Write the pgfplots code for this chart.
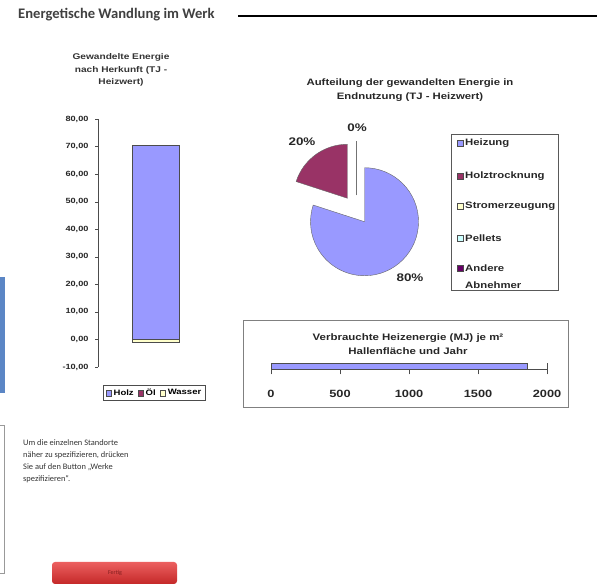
\documentclass[border=0pt]{standalone}
\usepackage{fontspec}
\setmainfont{Liberation Sans}[FakeStretch=1.22]
\newfontfamily\calibri{Carlito}
\usepackage{pgfplots}
\pgfplotsset{compat=1.18}
\usetikzlibrary{calc}

\definecolor{heiz}{HTML}{9999FF}
\definecolor{holz}{HTML}{993366}
\definecolor{strom}{HTML}{FFFFCC}
\definecolor{pell}{HTML}{CCFFFF}
\definecolor{andere}{HTML}{660066}
\definecolor{randblau}{HTML}{5B86C5}
\definecolor{knopfhell}{HTML}{EC6060}
\definecolor{knopfdunkel}{HTML}{C42828}
\definecolor{knopftext}{HTML}{821E1E}

% Gewandelte Energie nach Herkunft (TJ)
\def\valHolz{70.6}
\def\valWasser{-1.0}
% Endnutzung in Prozent
\def\pHeiz{80}
\def\pHolz{20}
% Heizenergie MJ je m2
\def\valMJ{1860}

\pgfplotsset{sqleg/.style={legend image code/.code={%
  \draw[##1,draw=black!70] (0pt,-2.8pt) rectangle (5.6pt,2.8pt);}}}

\newcommand\fs[1]{\bfseries\fontsize{#1}{#1}\selectfont}
\newcommand\fsb[2]{\bfseries\fontsize{#1}{#2}\selectfont}

\begin{document}
\begin{tikzpicture}[x=1pt,y=1pt]
\useasboundingbox (0,0) rectangle (597,588);

% Kopf
\node[anchor=west, inner sep=0pt, font=\calibri\bfseries\fontsize{14.6}{14.6}\selectfont, text=black!75]
  at (18,573) {Energetische Wandlung im Werk};
\draw[line width=1.8pt] (238,572) -- (597,572);

% Reste links am Rand
\fill[randblau] (0,195) rectangle (5,311);
\draw[black!40] (0,163) -- (4,163) -- (4,15) -- (0,15);

% --- Balken: Herkunft ---
\node[align=center, font=\fsb{8.3}{12.5}, text=black!80] at (121,518)
  {Gewandelte Energie\\ nach Herkunft (TJ -\\ Heizwert)};
\begin{axis}[
  at={(98pt,221pt)}, anchor=south west, scale only axis,
  width=112pt, height=248pt,
  xmin=98, xmax=210, ymin=-10, ymax=80,
  axis y line=left, axis x line=none,
  axis line style={-, black!70},
  ytick={-10,0,...,80},
  tick align=outside, major tick length=3pt,
  tick style={black!70},
  yticklabel style={font=\fs{7.5}, text=black!85, xshift=-3pt,
    /pgf/number format/.cd, fixed, fixed zerofill, precision=2, use comma,
    assume math mode=true},
  ybar, bar width=47pt, bar shift=0pt,
  clip=false,
  legend style={at={(axis description cs:0.504,-0.105)}, anchor=center,
    legend columns=-1, draw=black!70, font=\fs{7.8}, inner xsep=2pt, inner ysep=1.5pt,
    /tikz/every even column/.append style={column sep=2pt}},
]
\addplot[fill=heiz, draw=black!70, forget plot] coordinates {(155.5,\valHolz)};
\addplot[fill=strom, draw=black!70, forget plot] coordinates {(155.5,\valWasser)};
\addlegendimage{sqleg, fill=heiz}\addlegendentry{Holz}
\addlegendimage{sqleg, fill=holz}\addlegendentry{Öl}
\addlegendimage{sqleg, fill=strom}\addlegendentry{Wasser}
\end{axis}

% --- Kreis: Endnutzung ---
\node[align=center, font=\fsb{9.3}{14}, text=black!85] at (410,498)
  {Aufteilung der gewandelten Energie in\\ Endnutzung (TJ - Heizwert)};
\begin{axis}[
  at={(356pt,378pt)}, anchor=center, scale only axis,
  width=108pt, height=108pt,
  xmin=-1, xmax=1, ymin=-1, ymax=1,
  hide axis, clip=false,
]
\filldraw[fill=heiz, draw=black!60]
  ($(axis cs:0,0)+({90-1.8*\pHeiz}:14.5pt)$) -- ++(90:54pt)
  arc[start angle=90, end angle={90-3.6*\pHeiz}, radius=54pt] -- cycle;
\filldraw[fill=holz, draw=black!60]
  ($(axis cs:0,0)+({90-3.6*\pHeiz-1.8*\pHolz}:14.5pt)$) -- ++({90-3.6*\pHeiz}:54pt)
  arc[start angle={90-3.6*\pHeiz}, end angle={90-3.6*(\pHeiz+\pHolz)}, radius=54pt] -- cycle;
\draw[black!55] ($(axis cs:0,0)+(90:14.5pt)$) -- ++(90:54pt);
\end{axis}
\node[font=\fs{11}, text=black!85] at (357,460) {0\%};
\node[font=\fs{11}, text=black!85] at (302,446) {\pHolz\%};
\node[font=\fs{11}, text=black!85] at (410,310) {\pHeiz\%};

% Legende Kreis
\draw[black!65] (451,454) rectangle (558,298);
\begin{scope}[every node/.style={anchor=west, inner sep=0pt, font=\fs{9.3}, text=black!85}]
\foreach \yy/\cc/\tt in {445/heiz/Heizung, 412/holz/Holztrocknung,
    382/strom/Stromerzeugung, 350/pell/Pellets, 320/andere/Andere} {
  \filldraw[fill=\cc, draw=black!70] (457,\yy-3) rectangle (463,\yy+3);
  \node at (465,\yy) {\tt};
}
\node at (465,303) {Abnehmer};
\end{scope}

% --- Heizenergie je m2 ---
\draw[black!50] (243,268) rectangle (568,181);
\node[align=center, font=\fsb{9.4}{14}, text=black!85] at (408,244)
  {Verbrauchte Heizenergie (MJ) je m²\\ Hallenfläche und Jahr};
\begin{axis}[
  at={(271pt,219pt)}, anchor=west, scale only axis,
  width=276pt, height=12pt,
  xmin=0, xmax=2000, ymin=-6, ymax=6,
  axis x line=middle, axis y line=none,
  axis line style={-, black!70},
  xtick={0,500,...,2000},
  tick align=center, major tick length=11pt, tick style={black!70},
  xticklabel style={font=\fs{10.5}, text=black!85, yshift=-12pt,
    /pgf/number format/.cd, 1000 sep={}, assume math mode=true},
  clip=false,
]
\addplot[xbar, bar width=6pt, bar shift=0pt, fill=heiz, draw=black!70]
  coordinates {(\valMJ,3)};
\end{axis}

% Hinweistext und Knopf
\node[anchor=north west, align=left, inner sep=0pt, text=black!80,
  font=\calibri\fontsize{8.4}{12.3}\selectfont] at (23,149)
  {Um die einzelnen Standorte\\ näher zu spezifizieren, drücken\\
   Sie auf den Button „Werke\\ spezifizieren“.};
\shade[rounded corners=3pt, top color=knopfhell, bottom color=knopfdunkel]
  (52,26) rectangle (177,4);
\node[font=\calibri\fontsize{6}{6}\selectfont, text=knopftext] at (115,15) {Fertig};
\end{tikzpicture}
\end{document}
